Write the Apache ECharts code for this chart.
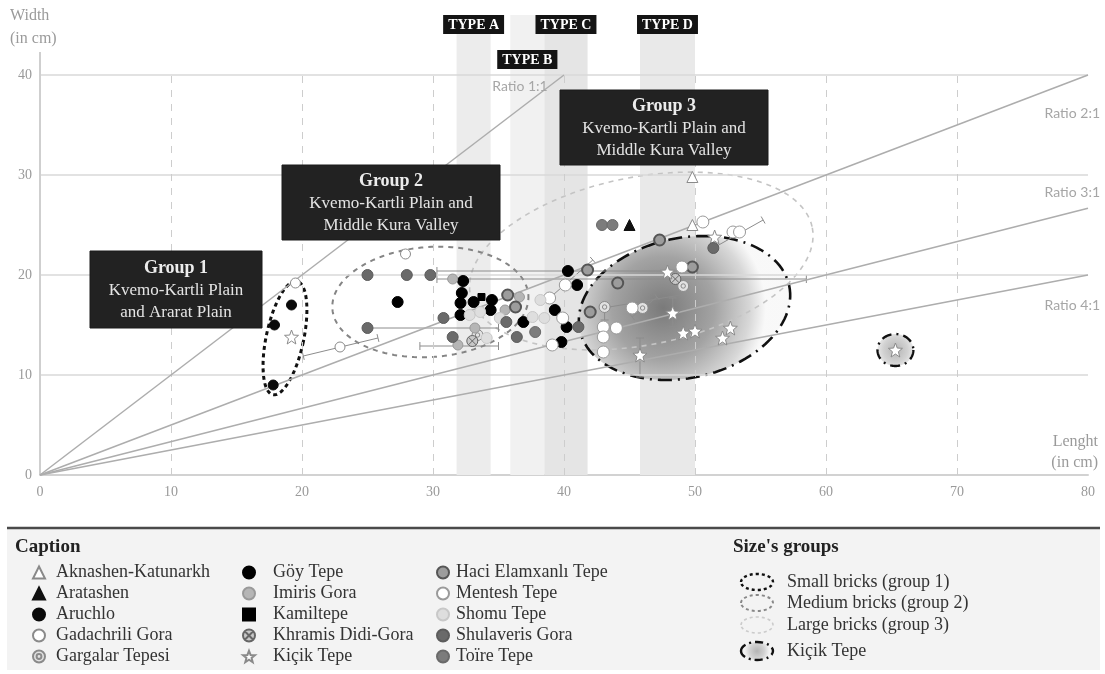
<!DOCTYPE html>
<html>
<head>
<meta charset="utf-8">
<script src="https://cdn.jsdelivr.net/npm/echarts@6/dist/echarts.min.js"></script>
<style>html,body{margin:0;padding:0;background:#fff}#c{width:1105px;height:674px}</style>
</head>
<body>
<div id="c"></div>
<script>
// ---------- axes / reference data ----------
const xTicks = [0, 10, 20, 30, 40, 50, 60, 70, 80];
const yTicks = [0, 10, 20, 30, 40];
const ratios = [1, 2, 3, 4];
const ratioLabels = ['Ratio 1:1', 'Ratio 2:1', 'Ratio 3:1', 'Ratio 4:1'];
const typeNames = ['TYPE A', 'TYPE B', 'TYPE C', 'TYPE D'];
const typeRanges = [[31.8, 34.4], [35.9, 38.5], [38.5, 41.8], [45.8, 50.0]];

// ---------- site measurements (length, width in cm) ----------
const aknashen = [[49.8, 29.8], [49.8, 25.0]];
const aratashen = [[45.0, 25.0]];
const aruchlo = [[17.9, 15.0], [19.2, 17.0], [17.8, 9.0]];
const gadachrili = [[19.5, 19.2], [22.9, 12.8], [27.9, 22.1]];
const gargalar = [[43.1, 16.8], [46.0, 16.7], [49.1, 18.9], [33.4, 14.0]];
const goyTepe = [[27.3, 17.3], [32.3, 19.4], [32.2, 18.2], [32.1, 17.2], [33.1, 17.3], [32.1, 16.0],
  [34.5, 17.5], [34.4, 16.5], [36.9, 15.3], [40.3, 20.4], [41.0, 19.0], [39.3, 16.5], [40.2, 14.8], [39.8, 13.3]];
const imiris = [[31.5, 19.6], [36.6, 17.8], [33.2, 14.7], [35.5, 16.5], [31.9, 13.0]];
const kamiltepe = [[33.7, 17.8]];
const khramis = [[48.5, 19.6], [33.0, 13.4]];
const kicik = [[19.2, 13.8], [47.9, 20.3], [51.5, 23.8], [48.3, 16.2], [49.1, 14.2], [50.0, 14.4],
  [52.7, 14.7], [52.1, 13.7], [45.8, 12.0], [65.3, 12.5]];
const haci = [[35.7, 18.0], [36.3, 16.8], [41.8, 20.5], [44.1, 19.2], [42.0, 16.3], [47.3, 23.5], [49.8, 20.8]];
const mentesh = [[38.9, 17.7], [40.1, 19.0], [39.9, 15.7], [39.1, 13.0], [43.0, 14.8], [43.0, 13.8],
  [43.0, 12.3], [44.0, 14.7], [45.2, 16.7], [49.0, 20.8], [50.6, 25.3], [52.9, 24.3], [53.4, 24.3]];
const shomu = [[32.8, 16.0], [33.6, 16.3], [37.6, 15.8], [38.5, 15.7], [34.1, 13.7], [35.1, 15.7], [38.2, 17.5]];
const shulaveris = [[25.0, 20.0], [28.0, 20.0], [29.8, 20.0], [25.0, 14.7], [30.8, 15.7], [31.5, 13.8],
  [35.6, 15.3], [36.4, 13.8], [41.1, 14.8], [51.4, 22.7]];
const toire = [[42.9, 25.0], [43.7, 25.0], [37.8, 14.3]];

// ranges / error bars: [x1, y1, x2, y2]
const rangeBars = [
  [20.1, 11.9, 25.8, 13.7], [25.0, 14.7, 35.0, 14.7], [30.3, 20.4, 50.2, 20.4], [30.3, 19.6, 58.5, 19.6],
  [29.0, 12.9, 35.0, 12.9], [51.4, 22.7, 55.2, 25.5], [43.0, 16.7, 48.9, 18.0], [45.2, 15.8, 47.1, 17.8],
  [38.9, 17.7, 42.2, 21.5], [48.3, 14.8, 48.3, 17.7], [45.8, 9.8, 45.8, 13.7], [43.1, 15.5, 43.1, 16.8]
];

// size groups: [centre length, centre width, half length, half width, tilt deg]
const sizeGroups = [
  [49.2, 16.7, 8.17, 7.0, 12],   // Kiçik Tepe
  [65.3, 12.5, 1.37, 1.6, 0],    // Kiçik Tepe (isolated)
  [45.9, 21.4, 13.3, 8.4, 11],   // group 3
  [29.8, 17.3, 7.5, 5.5, 4],     // group 2
  [18.7, 13.7, 1.43, 5.8, -12]   // group 1
];
const sizeGroupNames = ['Small bricks (group 1)', 'Medium bricks (group 2)', 'Large bricks (group 3)', 'Kiçik Tepe'];

// ---------- styles ----------
const SERIF = '"Liberation Serif", "DejaVu Serif", serif';
const SANS = 'Lato, "Open Sans", sans-serif';
const X_MIN = 0, X_MAX = 80, Y_MIN = 0, Y_MAX = 46, Y_TOP = 40, Y_AXIS_END = 42.3;

const STAR = 'path://M12,1 L14.9,8.6 L23,9 L16.7,14.1 L18.8,22 L12,17.5 L5.2,22 L7.3,14.1 L1,9 L9.1,8.6 Z';
const TARGET = 'path://M0,10A10,10,0,1,0,20,10A10,10,0,1,0,0,10Z M6,10A4,4,0,1,0,14,10A4,4,0,1,0,6,10Z';
const CROSSED = 'path://M0,10A10,10,0,1,0,20,10A10,10,0,1,0,0,10Z M3,3L17,17 M17,3L3,17';

const sites = [
  ['Aknashen-Katunarkh', aknashen, 'triangle', 11, '#fff', '#8a8a8a', 1],
  ['Aratashen', aratashen, 'triangle', 11, '#111', '#111', 1],
  ['Aruchlo', aruchlo, 'circle', 10, '#0a0a0a', '#0a0a0a', 1],
  ['Gadachrili Gora', gadachrili, 'circle', 10, '#fff', '#8a8a8a', 1],
  ['Gargalar Tepesi', gargalar, TARGET, 11, '#e2e2e2', '#8a8a8a', 1],
  ['Göy Tepe', goyTepe, 'circle', 11, '#000', '#000', 1],
  ['Imiris Gora', imiris, 'circle', 10, '#b5b5b5', '#999', 1],
  ['Kamiltepe', kamiltepe, 'rect', 7, '#000', '#000', 1],
  ['Khramis Didi-Gora', khramis, CROSSED, 11, '#c8c8c8', '#666', 1],
  ['Kiçik Tepe', kicik, STAR, 14, '#fff', '#8a8a8a', 1],
  ['Haci Elamxanlı Tepe', haci, 'circle', 11, '#9c9c9c', '#555', 2],
  ['Mentesh Tepe', mentesh, 'circle', 12, '#fff', '#9a9a9a', 1],
  ['Shomu Tepe', shomu, 'circle', 11, '#dedede', '#c8c8c8', 1],
  ['Shulaveris Gora', shulaveris, 'circle', 11, '#6a6a6a', '#5c5c5c', 1],
  ['Toïre Tepe', toire, 'circle', 11, '#7c7c7c', '#6a6a6a', 1]
];

const kicikFill = () => new echarts.graphic.RadialGradient(0.4, 0.5, 0.7, [
  {offset: 0, color: '#7a7a7a'}, {offset: 0.5, color: '#a3a3a3'}, {offset: 0.85, color: '#d8d8d8'},
  {offset: 1, color: 'rgba(248,248,248,0.95)'}]);
const kicikSmallFill = () => new echarts.graphic.RadialGradient(0.5, 0.5, 0.6, [
  {offset: 0, color: '#b4b4b4'}, {offset: 0.6, color: '#d2d2d2'}, {offset: 1, color: '#f2f2f2'}]);
const ellipseStyles = [
  {fill: 'k', stroke: '#111', lineWidth: 2.6, lineDash: [14, 6, 2, 6]},
  {fill: 's', stroke: '#111', lineWidth: 2.4, lineDash: [10, 5, 2, 5]},
  {fill: null, stroke: '#c4c4c4', lineWidth: 1.6, lineDash: [5, 5]},
  {fill: null, stroke: '#858585', lineWidth: 2, lineDash: [5, 5]},
  {fill: null, stroke: '#111', lineWidth: 3, lineDash: [4, 3.5]}
];
const bandColors = ['#ececec', '#f1f1f1', '#e5e5e5', '#e9e9e9'];

function ellipsePoints(cx, cy, rx, ry, tiltDeg) {
  const th = -tiltDeg * Math.PI / 180, pts = [];
  for (let i = 0; i <= 120; i++) {
    const t = i / 120 * 2 * Math.PI, ex = rx * Math.cos(t), ey = ry * Math.sin(t);
    pts.push([cx + ex * Math.cos(th) - ey * Math.sin(th), cy + ex * Math.sin(th) + ey * Math.cos(th)]);
  }
  return pts;
}
function fillFor(key) {
  if (key === 'k') return kicikFill();
  if (key === 's') return kicikSmallFill();
  return 'none';
}

// ---------- series ----------
const series = [];
series.push({
  type: 'line', name: '_bands', data: [], z: 0, silent: true, animation: false,
  markArea: {
    silent: true,
    label: {show: true, position: 'insideTop', distance: 0, color: '#fff', backgroundColor: '#141414',
      fontFamily: SERIF, fontWeight: 'bold', fontSize: 14, padding: [3, 5, 2, 5]},
    data: typeRanges.map((r, i) => [
      {xAxis: r[0], yAxis: Y_MIN, name: typeNames[i], itemStyle: {color: bandColors[i]},
        label: {offset: [0, i === 1 ? 35 : 0]}},
      {xAxis: r[1], yAxis: Y_MAX}])
  }
});
series.push({
  type: 'line', name: '_grid', data: [], z: 1, silent: true, animation: false,
  markLine: {
    silent: true, symbol: ['none', 'none'], label: {show: false}, animation: false,
    data: [
      ...yTicks.filter(v => v > Y_MIN).map(v => [{coord: [X_MIN, v], lineStyle: {color: '#d8d8d8', width: 1.6, type: 'solid'}}, {coord: [X_MAX, v]}]),
      ...xTicks.filter(v => v > X_MIN && v < X_MAX).map(v => [{coord: [v, Y_MIN], lineStyle: {color: '#cdcdcd', width: 1, type: [7, 7]}}, {coord: [v, Y_TOP]}]),
      [{coord: [X_MIN, Y_MIN], lineStyle: {color: '#cfcfcf', width: 2, type: 'solid'}}, {coord: [X_MIN, Y_AXIS_END]}],
      ...ratios.map(r => {
        const ex = Math.min(X_MAX, Y_TOP * r);
        return [{coord: [0, 0], lineStyle: {color: '#adadad', width: 1.5, type: 'solid'}}, {coord: [ex, ex / r]}];
      })
    ]
  }
});
series.push({
  type: 'custom', name: '_groups', data: sizeGroups, z: 2, silent: true, clip: false, animation: false,
  encode: {x: 0, y: 1},
  renderItem(params, api) {
    const c = api.coord([api.value(0), api.value(1)]);
    const sz = api.size([api.value(2), api.value(3)]);
    const st = ellipseStyles[params.dataIndex];
    return {
      type: 'polygon', shape: {points: ellipsePoints(c[0], c[1], sz[0], sz[1], api.value(4))},
      style: {fill: fillFor(st.fill), stroke: st.stroke, lineWidth: st.lineWidth, lineDash: st.lineDash}
    };
  }
});
series.push({
  type: 'custom', name: '_ranges', data: rangeBars, z: 3, silent: true, clip: false, animation: false,
  encode: {x: [0, 2], y: [1, 3]},
  renderItem(params, api) {
    const a = api.coord([api.value(0), api.value(1)]);
    const b = api.coord([api.value(2), api.value(3)]);
    const dx = b[0] - a[0], dy = b[1] - a[1], L = Math.hypot(dx, dy) || 1;
    const nx = -dy / L * 4, ny = dx / L * 4;
    const st = {stroke: '#8c8c8c', lineWidth: 1};
    return {type: 'group', children: [
      {type: 'line', shape: {x1: a[0], y1: a[1], x2: b[0], y2: b[1]}, style: st},
      {type: 'line', shape: {x1: a[0] - nx, y1: a[1] - ny, x2: a[0] + nx, y2: a[1] + ny}, style: st},
      {type: 'line', shape: {x1: b[0] - nx, y1: b[1] - ny, x2: b[0] + nx, y2: b[1] + ny}, style: st}
    ]};
  }
});
sites.forEach(s => series.push({
  type: 'scatter', name: s[0], data: s[1], z: 5, symbol: s[2], symbolSize: s[3],
  itemStyle: {color: s[4], borderColor: s[5], borderWidth: s[6], opacity: 1},
  emphasis: {disabled: true}, animation: false
}));

// ---------- legends ----------
const legendCols = [
  {names: sites.slice(0, 5).map(s => s[0]), left: 32, pad: 6},
  {names: sites.slice(5, 10).map(s => s[0]), left: 242, pad: 13},
  {names: sites.slice(10, 15).map(s => s[0]), left: 436, pad: 2}
];

// ---------- graphics ----------
function groupBox(x, y, w, h, title, l1, l2) {
  return {type: 'group', x, y, z: 100, children: [
    {type: 'rect', z: 100, shape: {x: 0, y: 0, width: w, height: h}, style: {fill: '#222', stroke: '#1a1a1a'}},
    {type: 'text', z: 101, x: w / 2, y: h / 2 + 1, style: {
      text: '{b|' + title + '}\n{n|' + l1 + '}\n{n|' + l2 + '}', align: 'center', verticalAlign: 'middle',
      rich: {b: {fontFamily: SERIF, fontWeight: 'bold', fontSize: 18, lineHeight: 22, fill: '#ececec', align: 'center'},
             n: {fontFamily: SERIF, fontSize: 17, lineHeight: 22, fill: '#e4e4e4', align: 'center'}}}}
  ]};
}
const sgRows = [582, 603, 625, 651];
const sgIcons = [
  {stroke: '#111', lineWidth: 2.4, lineDash: [3, 3], fill: null},
  {stroke: '#888', lineWidth: 2, lineDash: [3, 3], fill: null},
  {stroke: '#cbcbcb', lineWidth: 1.6, lineDash: [3, 3], fill: null},
  {stroke: '#111', lineWidth: 2.4, lineDash: [8, 4, 2, 4], fill: 's'}
];
const graphics = [
  {type: 'rect', z: 0, shape: {x: 7, y: 529, width: 1093, height: 141}, style: {fill: '#f3f3f3'}},
  {type: 'line', z: 1, shape: {x1: 7, y1: 528, x2: 1100, y2: 528}, style: {stroke: '#4a4a4a', lineWidth: 2.5}},
  {type: 'text', z: 10, x: 15, y: 547, style: {text: 'Caption', fontFamily: SERIF, fontWeight: 'bold', fontSize: 19, fill: '#222', verticalAlign: 'middle'}},
  {type: 'text', z: 10, x: 733, y: 547, style: {text: "Size's groups", fontFamily: SERIF, fontWeight: 'bold', fontSize: 19, fill: '#222', verticalAlign: 'middle'}},
  ...sizeGroupNames.map((n, i) => ({type: 'text', z: 10, x: 787, y: sgRows[i], style: {text: n, fontFamily: SERIF, fontSize: 18, fill: '#333', verticalAlign: 'middle'}})),
  ...sgIcons.map((st, i) => ({type: 'ellipse', z: 10, shape: {cx: 757, cy: sgRows[i], rx: 16, ry: i === 3 ? 9 : 8},
    style: {stroke: st.stroke, lineWidth: st.lineWidth, lineDash: st.lineDash, fill: fillFor(st.fill)}})),
  {type: 'text', z: 10, x: 10, y: 27, style: {text: 'Width\n(in cm)', fontFamily: SERIF, fontSize: 16, lineHeight: 23, fill: '#9a9a9a', verticalAlign: 'middle'}},
  {type: 'text', z: 10, x: 1098, y: 452, style: {text: 'Lenght\n(in cm)', fontFamily: SERIF, fontSize: 16, lineHeight: 21, fill: '#9a9a9a', align: 'right', verticalAlign: 'middle'}},
  {type: 'text', z: 10, x: 520, y: 86, style: {text: ratioLabels[0], fontFamily: SANS, fontSize: 14, fill: '#a6a6a6', align: 'center', verticalAlign: 'middle'}},
  {type: 'text', z: 10, x: 1100, y: 113, style: {text: ratioLabels[1], fontFamily: SANS, fontSize: 14, fill: '#a6a6a6', align: 'right', verticalAlign: 'middle'}},
  {type: 'text', z: 10, x: 1100, y: 192, style: {text: ratioLabels[2], fontFamily: SANS, fontSize: 14, fill: '#a6a6a6', align: 'right', verticalAlign: 'middle'}},
  {type: 'text', z: 10, x: 1100, y: 305, style: {text: ratioLabels[3], fontFamily: SANS, fontSize: 14, fill: '#a6a6a6', align: 'right', verticalAlign: 'middle'}},
  groupBox(90, 251, 172, 77, 'Group 1', 'Kvemo-Kartli Plain', 'and Ararat Plain'),
  groupBox(282, 165, 218, 75, 'Group 2', 'Kvemo-Kartli Plain and', 'Middle Kura Valley'),
  groupBox(560, 90, 208, 75, 'Group 3', 'Kvemo-Kartli Plain and', 'Middle Kura Valley')
];

const option = {
  animation: false,
  backgroundColor: '#fff',
  grid: {left: 40, right: 17, top: 15, bottom: 199, containLabel: false, outerBoundsMode: 'none'},
  xAxis: {type: 'value', min: X_MIN, max: X_MAX, interval: 10,
    axisLine: {show: true, onZero: true, lineStyle: {color: '#d2d2d2', width: 2}},
    axisTick: {show: false}, splitLine: {show: false},
    axisLabel: {fontFamily: SERIF, fontSize: 14, color: '#9a9a9a', margin: 10}},
  yAxis: {type: 'value', min: Y_MIN, max: Y_MAX, interval: 10,
    axisLine: {show: false}, axisTick: {show: false}, splitLine: {show: false},
    axisLabel: {fontFamily: SERIF, fontSize: 14, color: '#9a9a9a', margin: 8,
      formatter: v => (yTicks.indexOf(v) >= 0 ? String(v) : '')}},
  legend: legendCols.map(c => ({
    data: c.names, orient: 'vertical', left: c.left, top: 562, itemGap: 0, itemWidth: 12, itemHeight: 12,
    padding: 0, selectedMode: false,
    textStyle: {fontFamily: SERIF, fontSize: 18, color: '#333', lineHeight: 21, padding: [0, 0, 0, c.pad]}
  })),
  graphic: {elements: graphics},
  series
};
const chart = echarts.init(document.getElementById('c'));
chart.setOption(option);
</script>
</body>
</html>
